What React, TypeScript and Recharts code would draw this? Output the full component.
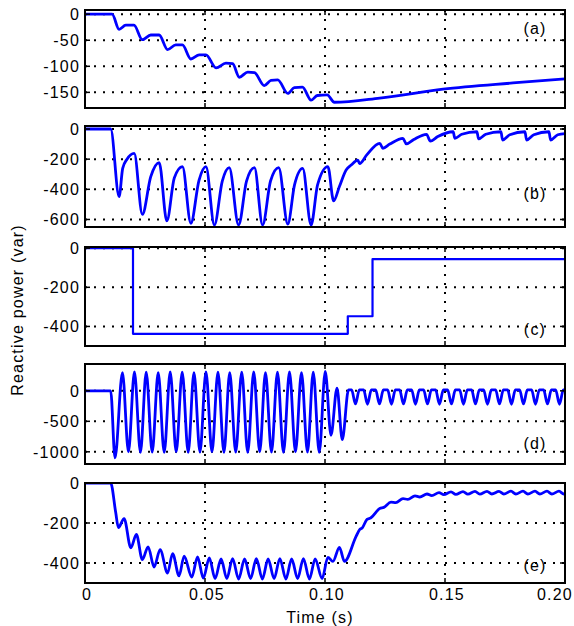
import React from "react";
import { LineChart, Line, XAxis, YAxis, CartesianGrid } from "recharts";

// ---------- shared x axis ----------
const xTicks = [0, 0.05, 0.1, 0.15, 0.2];
const xTickLabels = ["0", "0.05", "0.10", "0.15", "0.20"];

// ---------- panel (a) ----------
const ticksA = [0, -50, -100, -150];
const seriesA: [number, number][] = [
  [0, 0], [0.0113, 0], [0.0142, -29], [0.017, -21], [0.0204, -21], [0.0239, -49], [0.0274, -40],
  [0.0309, -40], [0.0344, -68], [0.0378, -59], [0.0406, -59], [0.0441, -86], [0.0476, -78],
  [0.0504, -78], [0.0546, -103], [0.0587, -94], [0.0615, -95], [0.0643, -121], [0.0678, -111],
  [0.0706, -112], [0.0747, -137], [0.0775, -127], [0.0803, -126], [0.0845, -152], [0.0872, -141],
  [0.0906, -140], [0.0942, -165], [0.0968, -156], [0.1009, -155], [0.1039, -169], [0.1228, -161],
  [0.1492, -144], [0.1783, -132], [0.2, -124],
];

// ---------- panel (b) ----------
const ticksB = [0, -200, -400, -600];
const seriesB: [number, number][] = [
  [0, 0], [0.0107, 0], [0.0142, -449], [0.0157, -261], [0.0175, -200], [0.0205, -161],
  [0.0239, -566], [0.0274, -316], [0.0309, -223], [0.0341, -610], [0.0372, -325], [0.0406, -250],
  [0.0441, -625], [0.0475, -340], [0.0504, -250], [0.0539, -637], [0.0572, -345], [0.0601, -256],
  [0.064, -637], [0.0673, -345], [0.0706, -256], [0.074, -637], [0.0773, -345], [0.0807, -256],
  [0.0845, -630], [0.0873, -371], [0.0907, -261], [0.0942, -637], [0.0969, -371], [0.1012, -250],
  [0.1036, -477], [0.106, -382], [0.1088, -272], [0.1109, -239], [0.1137, -206], [0.1144, -230],
  [0.1175, -170], [0.1228, -95], [0.1241, -128], [0.127, -100], [0.1325, -62], [0.1339, -99],
  [0.137, -70], [0.1423, -35], [0.1439, -80], [0.147, -50], [0.1534, -18], [0.1541, -62],
  [0.157, -35], [0.1633, -18], [0.164, -66], [0.167, -35], [0.1733, -18], [0.174, -73],
  [0.177, -38], [0.1833, -18], [0.184, -73], [0.187, -38], [0.1933, -18], [0.194, -73],
  [0.197, -38], [0.2, -30],
];

// ---------- panel (c) ----------
const ticksC = [0, -200, -400];
const seriesC: [number, number][] = [
  [0, 0], [0.02, 0], [0.02, -438], [0.1095, -438], [0.1095, -348], [0.1198, -348], [0.1198, -56], [0.2, -56],
];

// ---------- panel (d) ----------
const ticksD = [0, -500, -1000];
const seriesD: [number, number][] = [
  [0, 0], [0.0107, 0], [0.0125, -1100],
  [0.0156, 300], [0.0181, -1000], [0.0206, 310], [0.0231, -1010], [0.0255, 305], [0.028, -1005],
  [0.0305, 300], [0.033, -1010], [0.0355, 310], [0.038, -1000], [0.0405, 305], [0.043, -1010],
  [0.0454, 300], [0.0479, -1005], [0.0504, 310], [0.0529, -1000], [0.0554, 305], [0.0579, -1010],
  [0.0603, 300], [0.0628, -1005], [0.0653, 305], [0.0678, -1010], [0.0703, 310], [0.0728, -1000],
  [0.0752, 300], [0.0777, -1005], [0.0802, 305], [0.0827, -1010], [0.0852, 310], [0.0877, -1000],
  [0.0902, 300], [0.0927, -1005], [0.0951, 305], [0.0976, -1010],
  [0.1001, 320], [0.1025, -730], [0.105, 45], [0.1072, -800], [0.1098, 15],
  [0.1111, 15], [0.1127, -215], [0.1143, 15], [0.1161, 15], [0.1177, -220], [0.1193, 15],
  [0.1211, 15], [0.1227, -215], [0.1243, 15], [0.1261, 15], [0.1277, -220], [0.1293, 15],
  [0.1311, 15], [0.1327, -215], [0.1343, 15], [0.1361, 15], [0.1377, -220], [0.1393, 15],
  [0.1411, 15], [0.1427, -215], [0.1443, 15], [0.1461, 15], [0.1477, -220], [0.1493, 15],
  [0.1511, 15], [0.1527, -215], [0.1543, 15], [0.1561, 15], [0.1577, -220], [0.1593, 15],
  [0.1611, 15], [0.1627, -215], [0.1643, 15], [0.1661, 15], [0.1677, -220], [0.1693, 15],
  [0.1711, 15], [0.1727, -215], [0.1743, 15], [0.1761, 15], [0.1777, -220], [0.1793, 15],
  [0.1811, 15], [0.1827, -215], [0.1843, 15], [0.1861, 15], [0.1877, -220], [0.1893, 15],
  [0.1911, 15], [0.1927, -215], [0.1943, 15], [0.1961, 15], [0.1977, -220], [0.1993, 15],
  [0.2, 15],
];

// ---------- panel (e) ----------
const ticksE = [0, -200, -400];
const seriesE: [number, number][] = [
  [0, 0], [0.0107, 0], [0.0128, -148], [0.0139, -223], [0.0163, -178], [0.0191, -324],
  [0.0214, -257], [0.0239, -383], [0.0263, -319], [0.0288, -420], [0.0313, -333], [0.0344, -450],
  [0.0365, -353], [0.0392, -464], [0.0413, -366], [0.0445, -470], [0.0469, -370], [0.0493, -476],
  [0.0518, -375], [0.0542, -478], [0.0567, -380], [0.0591, -478], [0.0615, -378], [0.064, -480],
  [0.0665, -380], [0.069, -478], [0.0714, -378], [0.0739, -480], [0.0763, -380], [0.0788, -478],
  [0.0812, -378], [0.0837, -480], [0.0861, -380], [0.0886, -478], [0.091, -378], [0.0935, -480],
  [0.0959, -380], [0.0988, -478], [0.1012, -372], [0.1033, -392], [0.106, -322], [0.1081, -392],
  [0.113, -266], [0.1145, -232], [0.1155, -225], [0.1175, -182], [0.119, -175], [0.1228, -128],
  [0.1245, -122], [0.1275, -96], [0.1295, -98], [0.1325, -78], [0.1345, -82], [0.1375, -64],
  [0.1395, -70], [0.1425, -55], [0.1445, -63], [0.1475, -48], [0.1495, -58], [0.1525, -44],
  [0.1545, -57], [0.1575, -43], [0.1595, -56], [0.1625, -42], [0.1645, -56], [0.1675, -42],
  [0.1695, -55], [0.1725, -42], [0.1745, -55], [0.1775, -41], [0.1795, -55], [0.1825, -41],
  [0.1845, -55], [0.1875, -41], [0.1895, -55], [0.1925, -41], [0.1945, -55], [0.1975, -41],
  [0.1995, -55], [0.2, -52],
];

const FONT = "'Liberation Sans', Arial, Helvetica, sans-serif";
const toRows = (pairs: [number, number][]) => pairs.map(([t, v]) => ({ t, v }));

const PLOT_LEFT = 85;
const PLOT_RIGHT_MARGIN = 9;
const CHART_W = 574;
const PLOT_RIGHT = CHART_W - PLOT_RIGHT_MARGIN;
const BW = 2.6;
const TICK_LEN = 5;
const Y_TICK_MARGIN = 5;
const X_TICK_MARGIN = 6;

const YTick = (props: any) => {
  const { x, y, payload } = props;
  const axisX = x + Y_TICK_MARGIN;
  return (
    <g>
      <line x1={axisX} x2={axisX + TICK_LEN} y1={y} y2={y} stroke="#000" strokeWidth={1.5} />
      <line x1={PLOT_RIGHT - TICK_LEN} x2={PLOT_RIGHT} y1={y} y2={y} stroke="#000" strokeWidth={1.5} />
      <text x={x} y={y} dy="0.36em" textAnchor="end" fontSize={16} fontFamily={FONT} fill="#000" letterSpacing={1.2}>
        {String(payload.value)}
      </text>
    </g>
  );
};

const XTick = (props: any) => {
  const { x, y, payload, plotTop, showLabel } = props;
  const i = xTicks.indexOf(payload.value);
  const label = i >= 0 ? xTickLabels[i] : String(payload.value);
  const shift = i === xTicks.length - 1 ? -10 : 2;
  const axisY = y - X_TICK_MARGIN;
  return (
    <g>
      <line x1={x} x2={x} y1={axisY} y2={axisY - TICK_LEN} stroke="#000" strokeWidth={1.5} />
      <line x1={x} x2={x} y1={plotTop} y2={plotTop + TICK_LEN} stroke="#000" strokeWidth={1.5} />
      {showLabel ? (
        <text x={x + shift} y={y} dy="0.71em" textAnchor="middle" fontSize={16} fontFamily={FONT} fill="#000" letterSpacing={1.2}>
          {label}
        </text>
      ) : null}
    </g>
  );
};

type PanelProps = {
  data: [number, number][];
  top: number;
  plotHeight: number;
  domain: [number, number];
  ticks: number[];
  showX?: boolean;
  lineWidth?: number;
  curve?: "linear" | "monotone";
};

const Panel = ({ data, top, plotHeight, domain, ticks, showX, lineWidth = 2.8, curve = "monotone" }: PanelProps) => {
  const mTop = 10;
  const mBottom = showX ? 0 : 10;
  const xH = showX ? 30 : X_TICK_MARGIN;
  const h = mTop + plotHeight + mBottom + xH;
  const plotW = PLOT_RIGHT - PLOT_LEFT;
  return (
    <>
      <div style={{ position: "absolute", left: 0, top: top - mTop, width: CHART_W, height: h }}>
        <LineChart width={CHART_W} height={h} data={toRows(data)} margin={{ top: mTop, right: PLOT_RIGHT_MARGIN, bottom: mBottom, left: 0 }}>
          <CartesianGrid stroke="#000" strokeWidth={2} strokeDasharray="2 7" />
          <XAxis
            dataKey="t"
            type="number"
            domain={[0, 0.2]}
            ticks={xTicks}
            interval={0}
            allowDataOverflow
            axisLine={false}
            tickLine={false}
            tickSize={0}
            tickMargin={X_TICK_MARGIN}
            height={xH}
            tick={<XTick plotTop={mTop} showLabel={!!showX} />}
          />
          <YAxis
            type="number"
            domain={domain}
            ticks={ticks}
            interval={0}
            allowDataOverflow
            axisLine={false}
            tickLine={false}
            tickSize={0}
            tickMargin={Y_TICK_MARGIN}
            width={PLOT_LEFT}
            tick={<YTick />}
          />
          <Line
            type={curve}
            dataKey="v"
            stroke="#0000ff"
            strokeWidth={lineWidth}
            dot={false}
            isAnimationActive={false}
            strokeLinejoin="round"
          />
        </LineChart>
      </div>
      <div
        style={{
          position: "absolute",
          left: PLOT_LEFT - BW / 2,
          top: top - BW / 2,
          width: plotW + BW,
          height: plotHeight + BW,
          border: `${BW}px solid #000`,
          boxSizing: "border-box",
          pointerEvents: "none",
        }}
      />
    </>
  );
};

export default function App() {
  const labelStyle = { fontSize: 16, fontFamily: FONT, fill: "#000", letterSpacing: 1.2 } as any;
  return (
    <div style={{ position: "absolute", left: 0, top: 0, width: 574, height: 626, background: "#fff", overflow: "hidden" }}>
      <Panel data={seriesA} top={10} plotHeight={98} domain={[-180, 8]} ticks={ticksA} />
      <Panel data={seriesB} top={126} plotHeight={101} domain={[-650, 20]} ticks={ticksB} />
      <Panel data={seriesC} top={247} plotHeight={99} domain={[-500, 6]} ticks={ticksC} lineWidth={2.2} curve="linear" />
      <Panel data={seriesD} top={364} plotHeight={100} domain={[-1200, 440]} ticks={ticksD} />
      <Panel data={seriesE} top={483} plotHeight={100} domain={[-500, 0]} ticks={ticksE} showX />
      <svg width={574} height={626} style={{ position: "absolute", left: 0, top: 0, pointerEvents: "none" }}>
        <text x={535} y={28} dy="0.36em" textAnchor="middle" {...labelStyle}>(a)</text>
        <text x={535} y={193} dy="0.36em" textAnchor="middle" {...labelStyle}>(b)</text>
        <text x={535} y={329} dy="0.36em" textAnchor="middle" {...labelStyle}>(c)</text>
        <text x={535} y={443} dy="0.36em" textAnchor="middle" {...labelStyle}>(d)</text>
        <text x={535} y={565} dy="0.36em" textAnchor="middle" {...labelStyle}>(e)</text>
        <text x={320} y={623} textAnchor="middle" {...labelStyle}>Time (s)</text>
        <text x={0} y={0} transform="translate(23,310) rotate(-90)" textAnchor="middle" {...labelStyle}>
          Reactive power (var)
        </text>
      </svg>
    </div>
  );
}
